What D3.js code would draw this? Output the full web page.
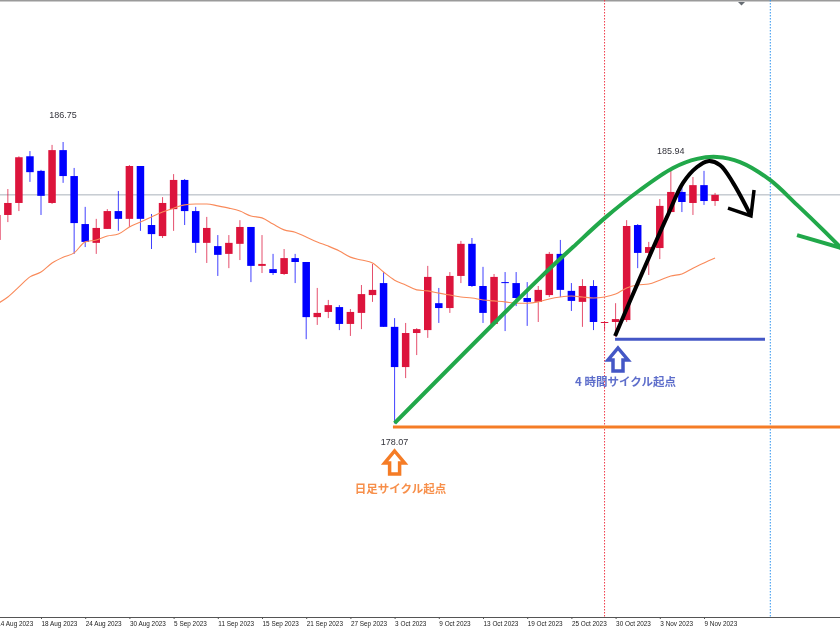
<!DOCTYPE html>
<html>
<head>
<meta charset="utf-8">
<script src="https://cdn.jsdelivr.net/npm/d3@7.9.0/dist/d3.min.js"></script>
<style>
  html, body { margin: 0; padding: 0; background: #fff; overflow: hidden; }
  svg { display: block; filter: blur(0.35px); }
</style>
</head>
<body>
<svg id="chart"></svg>
<script>
// daily candles, one row per bar: open, high, low, close
const opens = [183.73,184.50,184.87,186.31,185.86,184.87,186.50,185.70,184.22,183.64,184.07,184.62,184.38,186.01,184.19,183.85,184.68,185.58,184.62,183.64,183.54,183.30,183.61,184.13,182.93,182.83,182.68,183.17,183.05,181.35,181.51,181.66,181.14,181.48,182.03,182.40,181.05,179.81,180.86,180.95,181.78,181.63,182.62,183.61,182.31,181.14,182.43,182.40,181.94,181.82,182.03,183.30,182.16,181.82,182.31,181.17,181.20,181.26,184.19,183.33,183.48,184.59,185.21,184.87,185.42,184.93];
const highs = [184.65,185.30,186.31,186.47,185.89,186.66,186.75,185.95,184.75,184.38,184.68,185.24,186.04,186.01,184.53,185.05,185.76,185.61,184.75,184.44,183.88,183.88,184.34,184.13,183.88,183.30,183.45,183.30,183.05,182.25,181.88,181.72,181.60,182.34,182.99,182.74,181.32,181.17,181.01,182.93,182.25,182.74,183.70,183.79,182.90,182.68,182.74,182.74,182.43,182.31,183.36,183.73,182.40,182.52,182.49,181.20,181.78,184.34,184.22,183.67,184.99,185.94,185.49,185.67,185.86,185.18];
const lows = [183.58,184.28,184.62,185.52,184.50,184.84,185.49,183.30,183.51,183.30,184.07,184.01,184.13,184.01,183.45,183.79,184.01,184.19,183.33,183.02,182.62,182.86,183.11,182.43,182.71,182.65,182.65,182.40,180.67,181.11,181.32,180.95,180.77,180.98,181.82,181.05,178.07,179.47,180.18,180.71,181.17,181.48,182.40,182.28,181.17,181.14,180.92,181.69,181.08,181.20,181.97,181.97,181.54,181.05,180.95,180.95,180.74,181.20,182.86,182.65,183.14,184.59,184.59,184.50,184.81,184.78];
const closes = [184.50,184.87,186.28,185.82,185.09,186.50,185.70,184.25,183.67,184.10,184.62,184.38,186.01,184.38,183.91,184.87,185.58,184.62,183.64,184.10,183.27,183.64,184.13,182.93,182.99,182.71,183.17,183.05,181.35,181.48,181.72,181.14,181.51,182.06,182.19,181.05,179.81,180.86,180.98,182.59,181.63,182.62,183.61,182.31,181.48,182.59,182.40,181.94,181.82,182.19,183.30,182.19,181.85,182.31,181.20,181.20,181.29,184.16,183.33,183.51,184.78,185.21,184.90,185.42,184.93,185.12];
const movingAverage = [181.75,181.97,182.28,182.59,182.74,183.02,183.20,183.33,183.67,183.73,183.85,183.91,184.13,184.28,184.44,184.59,184.71,184.81,184.84,184.84,184.78,184.71,184.62,184.47,184.41,184.22,184.04,183.97,183.82,183.67,183.54,183.39,183.20,183.11,183.02,182.74,182.49,182.34,182.19,182.16,182.09,182.03,181.97,181.94,181.88,181.85,181.82,181.78,181.78,181.82,181.91,181.97,182.00,181.97,181.94,181.97,182.06,182.25,182.34,182.37,182.49,182.62,182.68,182.86,183.02,183.17];

// every fourth bar gets a date
const tickLabels = ["14 Aug 2023","18 Aug 2023","24 Aug 2023","30 Aug 2023","5 Sep 2023","11 Sep 2023","15 Sep 2023","21 Sep 2023","27 Sep 2023","3 Oct 2023","9 Oct 2023","13 Oct 2023","19 Oct 2023","25 Oct 2023","30 Oct 2023","3 Nov 2023","9 Nov 2023"];
const tickBars = tickLabels.map((d, i) => i * 4);

// hand drawn overlays as [bar, price]
const greenCycle = [[36,178.08],[49.16,182.56],[52.15,183.51],[55.04,184.41],[58.21,185.27],[61.2,185.95],[63.37,186.23],[65.18,186.29],[67.26,186.13],[69.97,185.58],[72.42,184.81],[74.77,184.04],[76.76,183.36]];
const greenBarb = [[72.42,183.88],[76.76,183.45]];
const blackCycle = [[55.95,180.77],[58.21,182.56],[60.65,184.44],[62.1,185.49],[63.37,185.98],[64.36,186.16],[65.45,186.04],[66.63,185.49],[68.25,184.47]];
const blackBarb = [[66.17,184.71],[68.25,184.47],[68.53,185.27]];
const blueBase = [[55.95,180.67],[69.52,180.67]];
const orangeBase = [[35.85,177.96],[76.8,177.96]];
const priceLine = 185.12;
const redLineBar = 55;
const blueLineBar = 70;

const highLabels = [
  { bar: 6, price: 186.75, text: "186.75", dy: -24 },
  { bar: 61, price: 185.94, text: "185.94", dy: -14 },
  { bar: 36, price: 178.07, text: "178.07", dy: 21 }
];

const width = 840, height = 630;
const axisY = 617;

const svg = d3.select("#chart").attr("width", width).attr("height", height);

const x = d3.scaleLinear().domain([0, 65]).range([-3.2, 715.05]);
const y = d3.scaleLinear().domain([186.75, 178.07]).range([142, 423.5]);

const line = d3.line().x(d => x(d[0])).y(d => y(d[1]));

// frame and reference lines
svg.append("line").attr("x1", 0).attr("x2", width).attr("y1", 0.5).attr("y2", 0.5)
  .attr("stroke", "#9a9a9a").attr("stroke-width", 2);
svg.append("path").attr("d", "M738,2L745,2L741.5,5.5Z").attr("fill", "#666c72");

svg.append("line").attr("x1", 0).attr("x2", width)
  .attr("y1", y(priceLine)).attr("y2", y(priceLine))
  .attr("stroke", "#aab1ba").attr("stroke-width", 1);

svg.append("line").attr("x1", x(redLineBar)).attr("x2", x(redLineBar)).attr("y1", 0).attr("y2", axisY)
  .attr("stroke", "#f03a48").attr("stroke-dasharray", "1.5,1.5");
svg.append("line").attr("x1", x(blueLineBar)).attr("x2", x(blueLineBar)).attr("y1", 0).attr("y2", axisY)
  .attr("stroke", "#2f94f0").attr("stroke-dasharray", "1.5,1.5");

// candles
const upColor = "#dc143c", downColor = "#0000ff";
const bars = d3.range(opens.length);

svg.append("g").selectAll("line").data(bars).enter().append("line")
  .attr("x1", i => x(i)).attr("x2", i => x(i))
  .attr("y1", i => y(highs[i])).attr("y2", i => y(lows[i]))
  .attr("stroke", i => closes[i] >= opens[i] ? upColor : downColor)
  .attr("stroke-opacity", 0.75)
  .attr("stroke-width", 1);

svg.append("g").selectAll("rect").data(bars).enter().append("rect")
  .attr("x", i => x(i) - 3.75)
  .attr("width", 7.5)
  .attr("y", i => y(Math.max(opens[i], closes[i])))
  .attr("height", i => Math.max(1, Math.abs(y(opens[i]) - y(closes[i]))))
  .attr("fill", i => closes[i] >= opens[i] ? upColor : downColor);

// moving average
svg.append("path")
  .attr("d", d3.line().x((d, i) => x(i)).y(d => y(d)).curve(d3.curveMonotoneX)(movingAverage))
  .attr("fill", "none").attr("stroke", "#f98a5a").attr("stroke-width", 1.1);

// overlays
const overlays = [
  { pts: orangeBase, color: "#f57c26", w: 3, curve: d3.curveLinear },
  { pts: blueBase, color: "#4457c6", w: 3, curve: d3.curveLinear },
  { pts: greenCycle, color: "#21a84a", w: 4, curve: d3.curveCatmullRom },
  { pts: greenBarb, color: "#21a84a", w: 4, curve: d3.curveLinear },
  { pts: blackCycle, color: "#000", w: 4, curve: d3.curveCatmullRom },
  { pts: blackBarb, color: "#000", w: 3.5, curve: d3.curveLinear }
];
overlays.forEach(o => {
  svg.append("path")
    .attr("d", line.curve(o.curve)(o.pts))
    .attr("fill", "none").attr("stroke", o.color).attr("stroke-width", o.w)
    .attr("stroke-linejoin", "miter");
});

// high / low labels
svg.append("g").selectAll("text").data(highLabels).enter().append("text")
  .attr("x", d => x(d.bar))
  .attr("y", d => y(d.price) + d.dy)
  .attr("text-anchor", "middle")
  .style("font-family", "'Liberation Sans'")
  .style("font-size", "9px")
  .attr("fill", "#33333b")
  .text(d => d.text);

// start arrows and their captions
function upArrow(tipX, tipY, color) {
  const p = d3.path();
  p.moveTo(tipX, tipY);
  p.lineTo(tipX + 10, tipY + 12);
  p.lineTo(tipX + 5, tipY + 12);
  p.lineTo(tipX + 5, tipY + 23);
  p.lineTo(tipX - 5, tipY + 23);
  p.lineTo(tipX - 5, tipY + 12);
  p.lineTo(tipX - 10, tipY + 12);
  p.closePath();
  svg.append("path").attr("d", p.toString())
    .attr("fill", "#fff").attr("stroke", color).attr("stroke-width", 3.5);
}
upArrow(x(36), 451, "#f57c26");
upArrow(618, 348, "#4457c6");

svg.append("text").attr("x", 400.5).attr("y", 493).attr("text-anchor", "middle")
  .style("font-family", "'Noto Sans CJK JP'").style("font-size", "11.5px").style("font-weight", "bold")
  .attr("fill", "#f78f4a").text("日足サイクル起点");
svg.append("text").attr("x", 625.5).attr("y", 386).attr("text-anchor", "middle")
  .style("font-family", "'Noto Sans CJK JP'").style("font-size", "11.5px").style("font-weight", "bold")
  .attr("fill", "#5e6ecb").text("4 時間サイクル起点");

// time axis
const axis = d3.axisBottom(x)
  .tickValues(tickBars)
  .tickFormat((d, i) => tickLabels[i])
  .tickSize(2)
  .tickPadding(2);

const axisG = svg.append("g").attr("transform", `translate(0, ${axisY})`).call(axis);
axisG.select(".domain").remove();
axisG.append("line").attr("x1", 0).attr("x2", width).attr("y1", 0.5).attr("y2", 0.5).attr("stroke", "#555");
axisG.selectAll(".tick line").attr("stroke", "#555");
axisG.selectAll(".tick text")
  .attr("text-anchor", "start")
  .attr("x", 0)
  .style("font-family", "'Liberation Sans'")
  .style("font-size", "6.4px")
  .attr("fill", "#222");
</script>
</body>
</html>
